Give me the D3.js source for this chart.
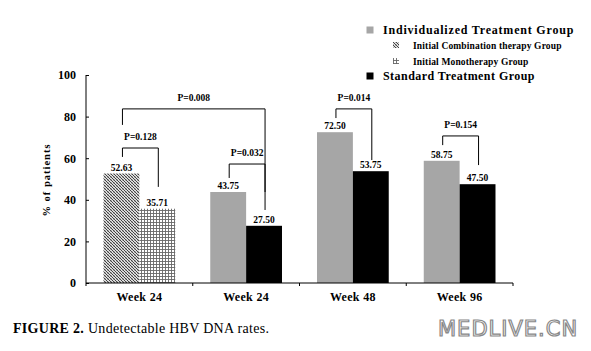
<!DOCTYPE html>
<html><head><meta charset="utf-8">
<script src="https://cdn.jsdelivr.net/npm/d3@7"></script>
<style>body{margin:0;background:#fff}svg{display:block}</style>
</head><body>
<svg id="c" width="591" height="351"></svg>
<script>
const categories = ["Week 24", "Week 24", "Week 48", "Week 96"];
const leftValues = [52.63, 43.75, 72.50, 58.75];
const rightValues = [35.71, 27.50, 53.75, 47.50];
const leftLabels = ["52.63", "43.75", "72.50", "58.75"];
const rightLabels = ["35.71", "27.50", "53.75", "47.50"];
const yTicks = [0, 20, 40, 60, 80, 100];
const legendItems = ["Individualized Treatment Group", "Initial Combination therapy Group", "Initial Monotherapy Group", "Standard Treatment Group"];
// brackets: [cat, side, cat, side, top, leftEnd, rightEnd, label]
const brackets = [
  [0, 0, 0, 1, 64.9, 60.6, 46.2, "P=0.128"],
  [0, 0, 1, 1, 83.7, 76.0, 43.75, "P=0.008"],
  [1, 0, 1, 1, 57.2, 50.5, 35.1, "P=0.032"],
  [2, 0, 2, 1, 83.7, 79.3, 59.1, "P=0.014"],
  [3, 0, 3, 1, 70.7, 66.3, 56.7, "P=0.154"]
];

const svg = d3.select("#c");
const serif = "'Liberation Serif','Times New Roman',serif";
const defs = svg.append("defs");
const p1 = defs.append("pattern").attr("id","cross").attr("patternUnits","userSpaceOnUse").attr("width",3).attr("height",3);
p1.append("rect").attr("width",3).attr("height",3).attr("fill","#e0e0e0");
p1.append("path").attr("d","M3,0L0,3M-1,1L1,-1M2,4L4,2").attr("stroke","#999").attr("stroke-width",0.6);
p1.append("path").attr("d","M0,0L3,3M-1,2L1,4M2,-1L4,1").attr("stroke","#333").attr("stroke-width",0.9);
const p2 = defs.append("pattern").attr("id","grid").attr("patternUnits","userSpaceOnUse").attr("width",3).attr("height",3);
p2.append("rect").attr("width",3).attr("height",3).attr("fill","#fff");
p2.append("path").attr("d","M0,0.5H3M0.5,0V3").attr("stroke","#666").attr("stroke-width",0.9);

const x0 = 86, x1 = 513, yBase = 283, yTop = 75;
const x = d3.scaleBand().domain(d3.range(categories.length)).range([x0, x1]).paddingInner(0).paddingOuter(0);
const y = d3.scaleLinear().domain([0, 100]).range([yBase, yTop]);
const bw = x.bandwidth() * 0.336;
const cx = i => x(i) + x.bandwidth() / 2;
const barX = (i, side) => cx(i) - bw + side * bw;

const fillL = i => i === 0 ? "url(#cross)" : "#a6a6a6";
const fillR = i => i === 0 ? "url(#grid)" : "#000";

const g = svg.append("g");
g.selectAll(".bl").data(leftValues).join("rect")
  .attr("x",(d,i)=>barX(i,0)).attr("y",d=>y(d)).attr("width",bw).attr("height",d=>yBase-y(d)).attr("fill",(d,i)=>fillL(i));
g.selectAll(".br").data(rightValues).join("rect")
  .attr("x",(d,i)=>barX(i,1)).attr("y",d=>y(d)).attr("width",bw).attr("height",d=>yBase-y(d)).attr("fill",(d,i)=>fillR(i));

g.selectAll(".ll").data(leftValues).join("text")
  .attr("x",(d,i)=>barX(i,0)+bw/2).attr("y",d=>y(d)-3).attr("text-anchor","middle")
  .attr("font-family",serif).attr("font-weight","bold").attr("font-size",9.5).text((d,i)=>leftLabels[i]);
g.selectAll(".rl").data(rightValues).join("text")
  .attr("x",(d,i)=>barX(i,1)+bw/2).attr("y",d=>y(d)-3).attr("text-anchor","middle")
  .attr("font-family",serif).attr("font-weight","bold").attr("font-size",9.5).text((d,i)=>rightLabels[i]);

const yAxis = d3.axisLeft(y).tickValues(yTicks).tickSize(-3).tickPadding(10);
const ya = svg.append("g").attr("transform",`translate(${x0},0)`).call(yAxis);
ya.select(".domain").attr("d",`M0,${yTop}V${yBase}`).attr("stroke","#000");
ya.selectAll("text").attr("font-family",serif).attr("font-weight","bold").attr("font-size",12).attr("fill","#000");
ya.selectAll("line").attr("stroke","#000");

const xa = svg.append("g").attr("transform",`translate(0,${yBase})`);
xa.append("line").attr("x1",x0).attr("x2",x1).attr("stroke","#000");
xa.selectAll(".xt").data(d3.range(categories.length+1)).join("line")
  .attr("x1",i=>x0+i*x.bandwidth()).attr("x2",i=>x0+i*x.bandwidth()).attr("y1",0).attr("y2",3).attr("stroke","#000");
xa.selectAll(".xl").data(categories).join("text")
  .attr("x",(d,i)=>cx(i)).attr("y",18).attr("text-anchor","middle")
  .attr("font-family",serif).attr("font-weight","bold").attr("font-size",12).attr("letter-spacing",0.3).text(d=>d);

svg.append("text").attr("transform","translate(50,180) rotate(-90)").attr("text-anchor","middle")
  .attr("font-family",serif).attr("font-weight","bold").attr("font-size",10.5).attr("letter-spacing",1).text("% of  patients");

brackets.forEach(b=>{
  const xl = barX(b[0],b[1])+bw/2 + 1, xr = barX(b[2],b[3])+bw/2 + 1;
  svg.append("path").attr("d",`M${xl},${y(b[5])}V${y(b[4])}H${xr}V${y(b[6])}`)
    .attr("fill","none").attr("stroke","#000").attr("stroke-width",1);
  svg.append("text").attr("x",(xl+xr)/2).attr("y",y(b[4])-8).attr("text-anchor","middle")
    .attr("font-family",serif).attr("font-weight","bold").attr("font-size",9.5).text(b[7]);
});

const leg = svg.append("g");
const legPos = [[370,383,34,12,0.8],[396,413,49,9.5,0.15],[396,413,65,9.5,0.15],[370,383,80,12,0.45]];
const legFill = ["#a6a6a6","url(#cross)","url(#grid)","#000"];
legendItems.forEach((t,i)=>{
  const [ix,tx,ty,fs,ls] = legPos[i];
  const s = i===0||i===3 ? 7 : 6;
  leg.append("rect").attr("x",ix-s/2).attr("y",ty-3-s/2-1).attr("width",s).attr("height",s).attr("fill",legFill[i]);
  leg.append("text").attr("x",tx).attr("y",ty).attr("font-family",serif).attr("font-weight","bold")
    .attr("font-size",fs).attr("letter-spacing",ls).text(t);
});

const cap = svg.append("text").attr("x",13).attr("y",333).attr("font-family",serif).attr("font-size",14).attr("letter-spacing",0.3);
cap.append("tspan").attr("font-weight","bold").text("FIGURE 2.");
cap.append("tspan").text(" Undetectable HBV DNA rates.");

svg.append("text").attr("x",438).attr("y",336).attr("font-family","'DejaVu Sans',sans-serif")
  .attr("font-size",21).attr("letter-spacing",1).attr("fill","#fff").attr("stroke","#888").attr("stroke-width",1.2).text("MEDLIVE.CN");
</script>
</body></html>
